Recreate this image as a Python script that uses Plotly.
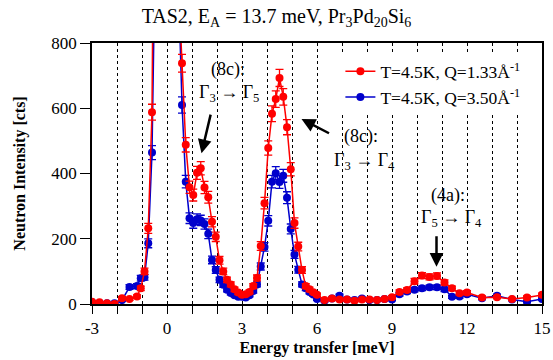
import numpy as np
import plotly.graph_objects as go

# Energy transfer grid (meV)
energy = [-3.0, -2.7, -2.4, -2.1, -1.8, -1.5, -1.2,
          -1.05, -0.9, -0.75, -0.6, -0.45, -0.3, -0.15, 0.0, 0.15, 0.3, 0.45,
          0.6, 0.75, 0.9, 1.05, 1.2, 1.35, 1.5, 1.65, 1.8, 1.95, 2.1, 2.25, 2.4,
          2.55, 2.7, 2.85, 3.0, 3.15, 3.3, 3.45, 3.6, 3.75, 3.9, 4.05, 4.2, 4.35,
          4.5, 4.65, 4.8, 4.95, 5.1, 5.25, 5.4, 5.55, 5.7, 5.85, 6.0,
          6.3, 6.6, 6.9, 7.2, 7.5, 7.8, 8.1, 8.4, 8.7, 9.0, 9.3, 9.6, 9.9, 10.2,
          10.5, 10.8, 11.1, 11.4, 11.7, 12.0, 12.6, 13.2, 13.8, 14.4, 15.0]

# Q = 1.33 1/A (red)
counts_q133 = [7, 5, 2, 0, 18, 15, 23,
               48, 100, 232, 588, 1300, 3500, 6000, 6500, 5500, 3000, 1000,
               738, 488, 358, 334, 402, 416, 357, 327, 252, 206, 134, 100, 74,
               60, 45, 35, 28, 30, 37, 55, 80, 178, 309, 478, 583, 628,
               693, 635, 542, 413, 248, 176, 104, 55, 45, 36, 28,
               12, 17, 14, 14, 10, 14, 14, 12, 15, 21, 37, 43, 70, 87,
               83, 86, 66, 48, 33, 35, 20, 21, 15, 20, 28]

# Q = 3.50 1/A (blue)
counts_q350 = [5, 3, 2, 2, 12, 52, 55,
               79, 82, 186, 464, 1200, 3200, 5500, 6000, 5000, 2800, 1000,
               610, 375, 263, 248, 260, 256, 245, 215, 135, 104, 74, 59, 44,
               34, 27, 22, 22, 20, 27, 40, 60, 115, 175, 255, 375, 401,
               374, 393, 326, 230, 152, 105, 60, 48, 37, 29, 15,
               10, 17, 25, 14, 12, 17, 12, 12, 15, 14, 30, 38, 44, 48,
               51, 51, 45, 22, 23, 30, 18, 25, 14, 7, 15]

x_tick_vals = [-3, 0, 3, 6, 9, 12, 15]
y_tick_vals = [0, 200, 400, 600, 800]

label_q133 = "T=4.5K, Q=1.33Å<sup>-1</sup>"
label_q350 = "T=4.5K, Q=3.50Å<sup>-1</sup>"

RED = "#ff0000"
BLUE = "#0000cc"
FONT = "Liberation Serif, Times New Roman, serif"

fig = go.Figure()

for name, vals, col, rank in [(label_q350, counts_q350, BLUE, 2),
                              (label_q133, counts_q133, RED, 1)]:
    fig.add_trace(go.Scatter(
        x=energy, y=vals, name=name, mode="lines+markers",
        line=dict(color=col, width=1.5),
        marker=dict(color=col, size=8, symbol="circle"),
        error_y=dict(type="data", array=np.sqrt(np.array(vals, dtype=float)),
                     color=col, thickness=1.3, width=4),
        legendrank=rank,
    ))

# annotations
ann_font = dict(family=FONT, size=18, color="black")
texts = [
    ("(8c):", 2.42, 718), ("Γ<sub>3</sub> → Γ<sub>5</sub>", 2.49, 644),
    ("(8c):", 7.75, 512), ("Γ<sub>3</sub> → Γ<sub>4</sub>", 7.9, 436),
    ("(4a):", 11.25, 334), ("Γ<sub>5</sub> → Γ<sub>4</sub>", 11.37, 261),
]
for t, xx, yy in texts:
    fig.add_annotation(x=xx, y=yy, text=t, showarrow=False, font=ann_font,
                       xref="x", yref="y")

arrows = [((1.76, 585), (1.38, 462)),
          ((6.54, 521), (5.38, 567)),
          ((10.78, 212), (10.78, 114))]
for (tx, ty), (hx, hy) in arrows:
    fig.add_annotation(x=hx, y=hy, ax=tx, ay=ty, xref="x", yref="y",
                       axref="x", ayref="y", text="", showarrow=True,
                       arrowhead=2, arrowsize=1.1, arrowwidth=2.5,
                       arrowcolor="black")

fig.update_layout(
    width=553, height=360,
    margin=dict(l=92, r=11, t=43, b=56, autoexpand=False),
    paper_bgcolor="white", plot_bgcolor="white",
    font=dict(family=FONT, size=17, color="black"),
    title=dict(text="TAS2, E<sub>A</sub> = 13.7 meV, Pr<sub>3</sub>Pd<sub>20</sub>Si<sub>6</sub>",
               x=0.5, xanchor="center", y=0.955, yanchor="middle",
               font=dict(family=FONT, size=20)),
    showlegend=True,
    legend=dict(x=0.552, y=0.96, xanchor="left", yanchor="top",
                bgcolor="white", font=dict(family=FONT, size=17.5),
                tracegroupgap=0),
)

fig.update_xaxes(
    range=[-3, 15], tickvals=x_tick_vals, ticktext=[str(v) for v in x_tick_vals],
    showline=True, linecolor="black", linewidth=1.5, mirror=True,
    ticks="outside", ticklen=8, tickwidth=1.2, tickcolor="black",
    showgrid=True, gridcolor="black", gridwidth=0.8, griddash="dot",
    zeroline=False, automargin=False,
    minor=dict(dtick=1, tick0=0, ticks="outside", ticklen=8, tickwidth=1.2,
               tickcolor="black", showgrid=True, gridcolor="black",
               gridwidth=0.8, griddash="dot"),
    title=dict(text="<b>Energy transfer [meV]</b>", font=dict(family=FONT, size=16),
               standoff=5),
    tickfont=dict(family=FONT, size=17),
)
fig.update_yaxes(
    range=[0, 800], tickvals=y_tick_vals,
    showline=True, linecolor="black", linewidth=1.5, mirror=True,
    ticks="outside", ticklen=10, tickwidth=1.2, tickcolor="black",
    showgrid=False, zeroline=False, automargin=False,
    title=dict(text="<b>Neutron Intensity [cts]</b>", font=dict(family=FONT, size=16),
               standoff=22),
    tickfont=dict(family=FONT, size=17),
)

fig.write_html("out.html", config={"displayModeBar": False},
               post_script="document.body.style.margin='0';document.body.style.overflow='hidden';")
